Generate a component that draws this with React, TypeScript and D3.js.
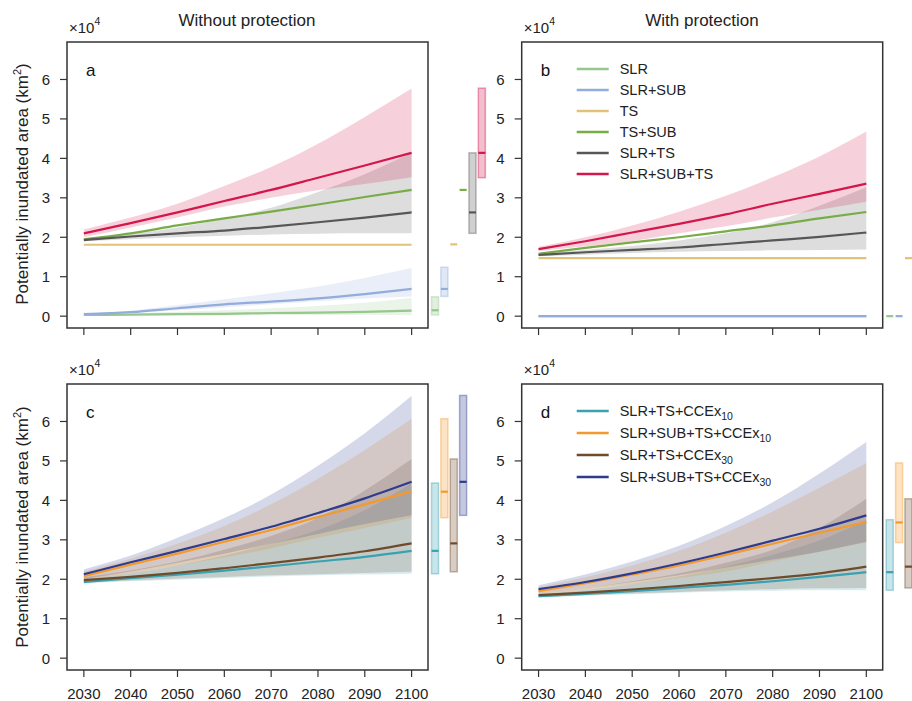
import * as d3 from 'd3';

const FONT = '"Liberation Sans", Arial, Helvetica, sans-serif';

// x categories and tick labels
const years = [2030, 2040, 2050, 2060, 2070, 2080, 2090, 2100];
const yTicks = [0, 1, 2, 3, 4, 5, 6];
const sideYears = [2105, 2107, 2109, 2111, 2113, 2115];

// panel a (without protection), units of 1e4 km2
const aSLR = [0.03, 0.04, 0.05, 0.06, 0.08, 0.09, 0.11, 0.14];
const aSLRLo = [0.02, 0.02, 0.02, 0.02, 0.03, 0.03, 0.03, 0.03];
const aSLRHi = [0.04, 0.07, 0.11, 0.15, 0.2, 0.26, 0.34, 0.47];
const aSLRSUB = [0.05, 0.1, 0.2, 0.3, 0.37, 0.45, 0.56, 0.69];
const aSLRSUBLo = [0.03, 0.08, 0.15, 0.22, 0.3, 0.38, 0.45, 0.5];
const aSLRSUBHi = [0.07, 0.14, 0.28, 0.43, 0.58, 0.75, 0.97, 1.22];
const aTS = [1.81, 1.81, 1.81, 1.81, 1.81, 1.81, 1.81, 1.81];
const aTSSUB = [1.95, 2.1, 2.3, 2.48, 2.65, 2.83, 3.02, 3.2];
const aSLRTS = [1.93, 2.02, 2.1, 2.17, 2.27, 2.38, 2.5, 2.63];
const aSLRTSLo = [1.9, 1.95, 2.0, 2.04, 2.07, 2.09, 2.1, 2.1];
const aSLRTSHi = [1.97, 2.08, 2.25, 2.47, 2.75, 3.15, 3.6, 4.14];
const aAll = [2.1, 2.36, 2.63, 2.92, 3.2, 3.51, 3.82, 4.14];
const aAllLo = [2.0, 2.25, 2.5, 2.78, 3.0, 3.19, 3.35, 3.52];
const aAllHi = [2.2, 2.5, 2.85, 3.3, 3.78, 4.37, 5.05, 5.77];
// side summary [low, median, high] in 2100
const aSide = [
  [0.03, 0.15, 0.49],
  [0.5, 0.69, 1.24],
  [1.82, 1.82, 1.82],
  [3.2, 3.2, 3.2],
  [2.1, 2.63, 4.14],
  [3.51, 4.14, 5.78],
];

// panel b (with protection)
const bSLR = [0, 0, 0, 0, 0, 0, 0, 0];
const bSLRSUB = [0, 0, 0, 0, 0, 0, 0, 0];
const bTS = [1.47, 1.47, 1.47, 1.47, 1.47, 1.47, 1.47, 1.47];
const bTSSUB = [1.58, 1.73, 1.87, 2.0, 2.15, 2.3, 2.48, 2.64];
const bSLRTS = [1.55, 1.62, 1.68, 1.74, 1.83, 1.92, 2.01, 2.12];
const bSLRTSLo = [1.52, 1.56, 1.6, 1.63, 1.65, 1.67, 1.68, 1.69];
const bSLRTSHi = [1.6, 1.68, 1.78, 1.92, 2.1, 2.38, 2.8, 3.27];
const bAll = [1.7, 1.9, 2.12, 2.34, 2.58, 2.85, 3.1, 3.36];
const bAllLo = [1.65, 1.77, 1.9, 2.1, 2.28, 2.5, 2.7, 2.9];
const bAllHi = [1.76, 2.0, 2.3, 2.65, 3.05, 3.52, 4.05, 4.68];
const bSide = [
  [0, 0, 0],
  [0, 0, 0],
  [1.47, 1.47, 1.47],
  [2.64, 2.64, 2.64],
  [1.69, 2.12, 3.27],
  [2.9, 3.36, 4.68],
];

// panel c (without protection, with compound extremes)
const cTS10 = [1.93, 2.03, 2.12, 2.22, 2.33, 2.45, 2.57, 2.72];
const cTS10Lo = [1.9, 1.95, 1.99, 2.03, 2.07, 2.1, 2.12, 2.14];
const cTS10Hi = [2.0, 2.15, 2.35, 2.6, 2.9, 3.25, 3.75, 4.44];
const cSUB10 = [2.08, 2.37, 2.65, 2.95, 3.25, 3.58, 3.9, 4.23];
const cSUB10Lo = [1.98, 2.15, 2.35, 2.55, 2.78, 3.05, 3.3, 3.56];
const cSUB10Hi = [2.2, 2.52, 2.9, 3.35, 3.9, 4.55, 5.28, 6.07];
const cTS30 = [1.98, 2.06, 2.16, 2.28, 2.41, 2.55, 2.71, 2.91];
const cTS30Lo = [1.92, 1.97, 2.02, 2.06, 2.1, 2.13, 2.16, 2.19];
const cTS30Hi = [2.05, 2.22, 2.45, 2.75, 3.1, 3.55, 4.25, 5.05];
const cSUB30 = [2.13, 2.43, 2.72, 3.02, 3.33, 3.68, 4.05, 4.47];
const cSUB30Lo = [2.0, 2.2, 2.42, 2.65, 2.9, 3.15, 3.4, 3.62];
const cSUB30Hi = [2.25, 2.6, 3.05, 3.55, 4.15, 4.88, 5.7, 6.65];
const cSide = [
  [2.14, 2.72, 4.44],
  [3.56, 4.22, 6.07],
  [2.19, 2.91, 5.05],
  [3.62, 4.47, 6.66],
];

// panel d (with protection, with compound extremes)
const dTS10 = [1.57, 1.63, 1.7, 1.78, 1.86, 1.95, 2.06, 2.18];
const dTS10Lo = [1.53, 1.58, 1.62, 1.66, 1.69, 1.71, 1.72, 1.72];
const dTS10Hi = [1.62, 1.73, 1.88, 2.07, 2.32, 2.62, 2.98, 3.51];
const dSUB10 = [1.7, 1.9, 2.12, 2.35, 2.62, 2.9, 3.18, 3.45];
const dSUB10Lo = [1.62, 1.74, 1.88, 2.03, 2.2, 2.45, 2.7, 2.93];
const dSUB10Hi = [1.8, 2.05, 2.35, 2.72, 3.18, 3.72, 4.32, 4.95];
const dTS30 = [1.6, 1.66, 1.74, 1.83, 1.93, 2.03, 2.15, 2.32];
const dTS30Lo = [1.55, 1.6, 1.64, 1.68, 1.72, 1.75, 1.77, 1.78];
const dTS30Hi = [1.65, 1.78, 1.95, 2.15, 2.42, 2.75, 3.3, 4.04];
const dSUB30 = [1.75, 1.93, 2.15, 2.4, 2.68, 2.98, 3.28, 3.62];
const dSUB30Lo = [1.65, 1.78, 1.93, 2.1, 2.3, 2.5, 2.7, 2.95];
const dSUB30Hi = [1.85, 2.12, 2.45, 2.85, 3.35, 3.95, 4.68, 5.48];
const dSide = [
  [1.72, 2.18, 3.51],
  [2.93, 3.44, 4.95],
  [1.78, 2.32, 4.04],
  [2.95, 3.62, 5.48],
];

const colors = {
  SLR: '#96c78c',
  SLRSUB: '#92acdc',
  TS: '#e2c179',
  TSSUB: '#78ac46',
  SLRTS: '#575757',
  ALL: '#d3174d',
  TS10: '#3aa1b1',
  SUB10: '#f39a2e',
  TS30: '#6e4b2b',
  SUB30: '#2f3c8e',
};

type Series = { c: string; mid: number[]; lo?: number[]; hi?: number[] };

const topSeries = (mid: number[][], lo: (number[] | undefined)[], hi: (number[] | undefined)[]): Series[] =>
  ['SLR', 'SLRSUB', 'TS', 'TSSUB', 'SLRTS', 'ALL'].map((k, i) => ({ c: colors[k], mid: mid[i], lo: lo[i], hi: hi[i] }));
const botSeries = (mid: number[][], lo: number[][], hi: number[][]): Series[] =>
  ['TS10', 'SUB10', 'TS30', 'SUB30'].map((k, i) => ({ c: colors[k], mid: mid[i], lo: lo[i], hi: hi[i] }));

const seriesA = topSeries(
  [aSLR, aSLRSUB, aTS, aTSSUB, aSLRTS, aAll],
  [aSLRLo, aSLRSUBLo, undefined, undefined, aSLRTSLo, aAllLo],
  [aSLRHi, aSLRSUBHi, undefined, undefined, aSLRTSHi, aAllHi]
);
const seriesB = topSeries(
  [bSLR, bSLRSUB, bTS, bTSSUB, bSLRTS, bAll],
  [undefined, undefined, undefined, undefined, bSLRTSLo, bAllLo],
  [undefined, undefined, undefined, undefined, bSLRTSHi, bAllHi]
);
const seriesC = botSeries([cTS10, cSUB10, cTS30, cSUB30], [cTS10Lo, cSUB10Lo, cTS30Lo, cSUB30Lo], [cTS10Hi, cSUB10Hi, cTS30Hi, cSUB30Hi]);
const seriesD = botSeries([dTS10, dSUB10, dTS30, dSUB30], [dTS10Lo, dSUB10Lo, dTS30Lo, dSUB30Lo], [dTS10Hi, dSUB10Hi, dTS30Hi, dSUB30Hi]);

const topLegend = ['SLR', 'SLR+SUB', 'TS', 'TS+SUB', 'SLR+TS', 'SLR+SUB+TS'];
const botLegend = [
  ['SLR+TS+CCEx', '10'],
  ['SLR+SUB+TS+CCEx', '10'],
  ['SLR+TS+CCEx', '30'],
  ['SLR+SUB+TS+CCEx', '30'],
];

const Panel = ({ left, top, w = 361, h = 286, series, side, letter, xLabels, legend, legendGap }) => {
  const x = d3.scaleLinear().domain([2026.4, 2103.5]).range([left, left + w]);
  const y = d3.scaleLinear().domain([-0.3, 6.95]).range([top + h, top]);
  const line = d3
    .line<number>()
    .x((_, i) => x(years[i]))
    .y((d) => y(d))
    .curve(d3.curveMonotoneX);
  const area = d3
    .area<number>()
    .x((_, i) => x(years[i]))
    .y1((d) => y(d))
    .curve(d3.curveMonotoneX);
  const bottom = top + h;
  return (
    <g>
      {series.map((s, i) =>
        s.lo ? (
          <path key={'b' + i} d={area.y0((_, j) => y(s.lo[j]))(s.hi)} fill={s.c} fillOpacity={0.2} stroke='none' />
        ) : null
      )}
      {series.map((s, i) => (
        <path key={'l' + i} d={line(s.mid)} fill='none' stroke={s.c} strokeWidth={2.2} />
      ))}
      {/* summary bars for 2100, outside the axes */}
      {side.map((v, i) => {
        const cx = x(sideYears[i]);
        const bw = x(2101.5) - x(2100);
        const c = series[i].c;
        return (
          <g key={'s' + i}>
            {v[2] > v[0] && (
              <rect
                x={cx - bw / 2}
                y={y(v[2])}
                width={bw}
                height={y(v[0]) - y(v[2])}
                fill={c}
                fillOpacity={0.28}
                stroke={c}
                strokeOpacity={0.4}
                strokeWidth={1.5}
              />
            )}
            <line x1={cx - bw / 2} x2={cx + bw / 2} y1={y(v[1])} y2={y(v[1])} stroke={c} strokeWidth={2.2} />
          </g>
        );
      })}
      <rect x={left} y={top} width={w} height={h} fill='none' stroke='#333' strokeWidth={1.5} />
      {yTicks.map((t) => (
        <g key={'y' + t}>
          <line x1={left - 7} x2={left} y1={y(t)} y2={y(t)} stroke='#333' strokeWidth={1.2} />
          <text x={left - 17} y={y(t) + 5.5} textAnchor='end' fontSize={15} fill='#222'>
            {t}
          </text>
        </g>
      ))}
      {years.map((t) => (
        <g key={'x' + t}>
          <line x1={x(t)} x2={x(t)} y1={bottom} y2={bottom + 7} stroke='#333' strokeWidth={1.2} />
          {xLabels && (
            <text x={x(t)} y={bottom + 29} textAnchor='middle' fontSize={15} fill='#222'>
              {t}
            </text>
          )}
        </g>
      ))}
      <text x={left + 2} y={top - 9} fontSize={15} fill='#222'>
        ×10
        <tspan fontSize={10.5} dy={-8}>
          4
        </tspan>
      </text>
      <text x={left + 19} y={top + 34} fontSize={17} fill='#111'>
        {letter}
      </text>
      {legend &&
        legend.map((lab, i) => {
          const ly = top + 27 + i * legendGap;
          return (
            <g key={'g' + i}>
              <line x1={left + 55} x2={left + 87} y1={ly} y2={ly} stroke={series[i].c} strokeWidth={2.5} />
              <text x={left + 98} y={ly + 5} fontSize={14.5} fill='#222'>
                {Array.isArray(lab) ? (
                  <>
                    {lab[0]}
                    <tspan fontSize={10.5} dy={4}>
                      {lab[1]}
                    </tspan>
                  </>
                ) : (
                  lab
                )}
              </text>
            </g>
          );
        })}
    </g>
  );
};

const YLabel = ({ cy }) => (
  <text transform={`translate(28, ${cy}) rotate(-90)`} textAnchor='middle' fontSize={17} fill='#222'>
    Potentially inundated area (km
    <tspan fontSize={11} dy={-7}>
      2
    </tspan>
    <tspan dy={7}>)</tspan>
  </text>
);

export default function App() {
  return (
    <svg
      width={912}
      height={701}
      style={{ position: 'absolute', left: 0, top: 0, background: '#fff', fontFamily: FONT }}
    >
      <text x={247} y={26} textAnchor='middle' fontSize={17} fill='#222'>
        Without protection
      </text>
      <text x={702} y={26} textAnchor='middle' fontSize={17} fill='#222'>
        With protection
      </text>
      <YLabel cy={184} />
      <YLabel cy={527} />
      <Panel left={67} top={42} series={seriesA} side={aSide} letter='a' xLabels={false} legend={null} legendGap={0} />
      <Panel left={521.7} top={42} series={seriesB} side={bSide} letter='b' xLabels={false} legend={topLegend} legendGap={21} />
      <Panel left={67} top={384} series={seriesC} side={cSide} letter='c' xLabels={true} legend={null} legendGap={0} />
      <Panel left={521.7} top={384} series={seriesD} side={dSide} letter='d' xLabels={true} legend={botLegend} legendGap={22} />
    </svg>
  );
}
